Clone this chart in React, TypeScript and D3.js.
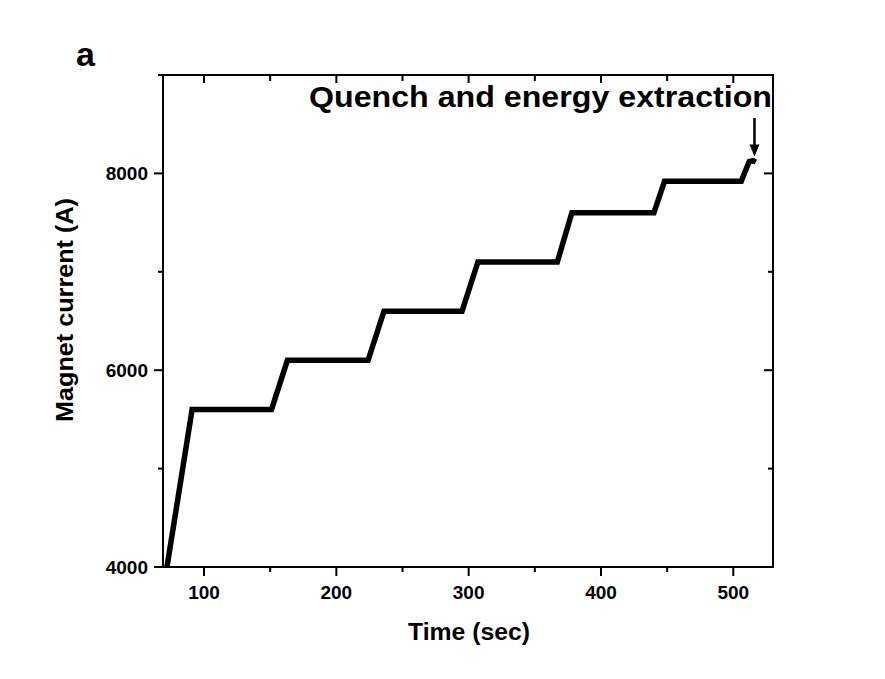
import React from "react";
import * as d3 from "d3";

const timeValues = [72, 91, 151, 163, 224, 236, 295, 307, 367, 378, 440, 448, 506, 512, 515, 517];
const currentValues = [4000, 5600, 5600, 6100, 6100, 6600, 6600, 7100, 7100, 7600, 7600, 7920, 7920, 8120, 8130, 8115];
const xMajorTicks = [100, 200, 300, 400, 500];
const xMinorTicks = [150, 250, 350, 450];
const yMajorTicks = [4000, 6000, 8000];
const yMinorTicks = [5000, 7000, 9000];
const annotationText = "Quench and energy extraction";
const panelLabel = "a";
const xLabel = "Time (sec)";
const yLabel = "Magnet current (A)";

export default function App() {
  const W = 885, H = 679;
  const L = 163, R = 773, T = 75, B = 567;
  const x = d3.scaleLinear().domain([69, 530]).range([L, R]);
  const y = d3.scaleLinear().domain([4000, 9000]).range([B, T]);
  const pts = timeValues.map((t, i) => [t, currentValues[i]] as [number, number]);
  const line = d3.line<[number, number]>().x(d => x(d[0])).y(d => y(d[1]));
  const font = "'Liberation Sans', Arial, sans-serif";
  const arrowX = x(516);
  return (
    <svg width={W} height={H} style={{ position: "absolute", left: 0, top: 0 }} fontFamily={font}>
      <rect x={0} y={0} width={W} height={H} fill="#ffffff" />
      <defs>
        <clipPath id="plot">
          <rect x={L} y={T} width={R - L} height={B - T} />
        </clipPath>
      </defs>
      <path d={line(pts) || ""} fill="none" stroke="#000" strokeWidth={5.5} strokeLinejoin="miter" clipPath="url(#plot)" />
      <rect x={L} y={T} width={R - L} height={B - T} fill="none" stroke="#000" strokeWidth={2} />
      {xMajorTicks.map(t => (
        <g key={"xM" + t}>
          <line x1={x(t)} x2={x(t)} y1={B} y2={B + 9} stroke="#000" strokeWidth={2} />
          <line x1={x(t)} x2={x(t)} y1={T} y2={T + 8} stroke="#000" strokeWidth={2} />
          <text x={x(t)} y={B + 32} textAnchor="middle" fontSize={19} fontWeight="bold">{t}</text>
        </g>
      ))}
      {xMinorTicks.map(t => (
        <g key={"xm" + t}>
          <line x1={x(t)} x2={x(t)} y1={B} y2={B + 5} stroke="#000" strokeWidth={2} />
          <line x1={x(t)} x2={x(t)} y1={T} y2={T + 6} stroke="#000" strokeWidth={2} />
        </g>
      ))}
      {yMajorTicks.map(t => (
        <g key={"yM" + t}>
          <line x1={L - 9} x2={L} y1={y(t)} y2={y(t)} stroke="#000" strokeWidth={2} />
          <line x1={R - 9} x2={R} y1={y(t)} y2={y(t)} stroke="#000" strokeWidth={2} />
          <text x={L - 15} y={y(t) + 7} textAnchor="end" fontSize={19} fontWeight="bold">{t}</text>
        </g>
      ))}
      {yMinorTicks.map(t => (
        <g key={"ym" + t}>
          <line x1={L - 5} x2={L} y1={y(t)} y2={y(t)} stroke="#000" strokeWidth={2} />
          <line x1={R - 5} x2={R} y1={y(t)} y2={y(t)} stroke="#000" strokeWidth={2} />
        </g>
      ))}
      <text x={408} y={640} fontSize={23.5} fontWeight="bold" textLength={122} lengthAdjust="spacingAndGlyphs">{xLabel}</text>
      <text transform={`translate(73,422) rotate(-90)`} fontSize={23.5} fontWeight="bold" textLength={224} lengthAdjust="spacingAndGlyphs">{yLabel}</text>
      <text x={76} y={66} fontSize={34} fontWeight="bold">{panelLabel}</text>
      <text x={309} y={107} fontSize={30} fontWeight="bold" textLength={463} lengthAdjust="spacingAndGlyphs">{annotationText}</text>
      <line x1={arrowX} x2={arrowX} y1={y(9000) + 43} y2={y(8130) - 14} stroke="#000" strokeWidth={2.5} />
      <path d={`M${arrowX - 5},${y(8130) - 16} L${arrowX + 5},${y(8130) - 16} L${arrowX},${y(8130) - 4} Z`} fill="#000" />
    </svg>
  );
}
